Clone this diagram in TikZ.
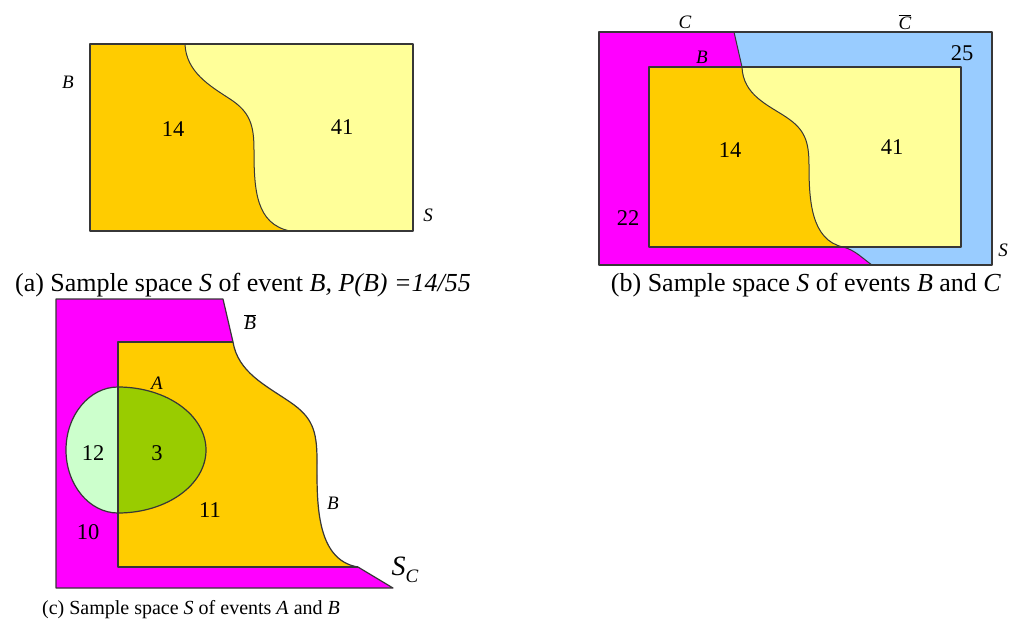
\documentclass[tikz,border=0pt]{standalone}
\usepackage{fontspec}
\setmainfont{Liberation Serif}
\definecolor{orng}{RGB}{255,204,0}
\definecolor{lyel}{RGB}{255,255,153}
\definecolor{mag}{RGB}{255,0,255}
\definecolor{lblue}{RGB}{153,204,255}
\definecolor{grn}{RGB}{153,204,0}
\definecolor{lgrn}{RGB}{204,255,204}
\definecolor{edge}{RGB}{55,55,55}
\tikzset{
  outl/.style={draw=edge, line width=1.2pt, line join=round},
  num/.style={font=\fontsize{22.5}{25}\selectfont, inner sep=0pt},
  lab/.style={font=\fontsize{19}{21}\selectfont\itshape, inner sep=0pt},
  capa/.style={font=\fontsize{26}{29}\selectfont, inner sep=0pt},
  capc/.style={font=\fontsize{20}{24}\selectfont, inner sep=0pt}
}
\begin{document}
\begin{tikzpicture}[x=1pt,y=-1pt]
\useasboundingbox (0,0) rectangle (1011,626);
% ---------- (a) ----------
\fill[lyel] (90,44) rectangle (413,231);
\fill[orng] (90,44) -- (185,44) .. controls (186,72) and (210,86) .. (230,99)
  .. controls (250,112) and (254,125) .. (254,150)
  .. controls (254,190) and (256,224) .. (290,231) -- (90,231) -- cycle;
\draw[outl] (90,44) rectangle (413,231);
\draw[outl, line width=1pt] (185,44) .. controls (186,72) and (210,86) .. (230,99)
  .. controls (250,112) and (254,125) .. (254,150)
  .. controls (254,190) and (256,224) .. (290,231);
\node[lab] (aB) at (68,82) {B};
\node[lab] (aS) at (428,215) {S};
\node[num] (a14) at (173,129) {14};
\node[num] (a41) at (342,127) {41};
\node[capa] (capa) at (243,285) {(a) Sample space \textit{S} of event \textit{B, P(B) =14/55}};
% ---------- (b) ----------
\fill[lblue] (599,32) rectangle (992,265);
\fill[mag] (599,32) -- (734,32) -- (742,67) .. controls (743,95) and (768,105) .. (786,117)
  .. controls (804,129) and (809,140) .. (809,165)
  .. controls (809,200) and (811,240) .. (843,247)
  .. controls (855,250) and (862,258) .. (872,265) -- (599,265) -- cycle;
\fill[lyel] (649,67) rectangle (961,247);
\fill[orng] (649,67) -- (742,67) .. controls (743,95) and (768,105) .. (786,117)
  .. controls (804,129) and (809,140) .. (809,165)
  .. controls (809,200) and (811,240) .. (843,247) -- (649,247) -- cycle;
\draw[outl] (599,32) rectangle (992,265);
\draw[outl] (649,67) rectangle (961,247);
\draw[outl, line width=1pt] (734,32) -- (742,67) .. controls (743,95) and (768,105) .. (786,117)
  .. controls (804,129) and (809,140) .. (809,165)
  .. controls (809,200) and (811,240) .. (843,247)
  .. controls (855,250) and (862,258) .. (872,265);
\node[lab] (bC) at (685,22) {C};
\node[lab] (bCb) at (905,22) {$\overline{\mbox{\itshape C}}$};
\node[lab] (bB) at (702,57) {B};
\node[lab] (bS) at (1003,250) {S};
\node[num] (b25) at (962,53) {25};
\node[num] (b14) at (730,150) {14};
\node[num] (b41) at (892,147) {41};
\node[num] (b22) at (628,218) {22};
\node[capa] (capb) at (806,285) {(b) Sample space \textit{S} of events \textit{B} and \textit{C}};
% ---------- (c) ----------
\fill[mag] (56,299) -- (223,299) -- (233,342) .. controls (238,372) and (265,385) .. (290,402)
  .. controls (312,417) and (317,430) .. (317,460)
  .. controls (317,500) and (315,560) .. (358,567) -- (393,588) -- (56,588) -- cycle;
\fill[orng] (118,342) -- (233,342) .. controls (238,372) and (265,385) .. (290,402)
  .. controls (312,417) and (317,430) .. (317,460)
  .. controls (317,500) and (315,560) .. (358,567) -- (118,567) -- cycle;
\fill[lgrn] (118,387) .. controls (89.3,387) and (66,415.2) .. (66,450)
  .. controls (66,484.8) and (89.3,513) .. (118,513) -- cycle;
\fill[grn] (118,387) .. controls (166.6,387) and (206,415.2) .. (206,450)
  .. controls (206,484.8) and (166.6,513) .. (118,513) -- cycle;
\draw[outl] (56,299) -- (223,299) -- (233,342) .. controls (238,372) and (265,385) .. (290,402)
  .. controls (312,417) and (317,430) .. (317,460)
  .. controls (317,500) and (315,560) .. (358,567) -- (393,588) -- (56,588) -- cycle;
\draw[outl] (233,342) -- (118,342) -- (118,567) -- (358,567);
\draw[outl] (118,387) .. controls (89.3,387) and (66,415.2) .. (66,450)
  .. controls (66,484.8) and (89.3,513) .. (118,513)
  .. controls (166.6,513) and (206,484.8) .. (206,450)
  .. controls (206,415.2) and (166.6,387) .. (118,387) -- cycle;
\node[lab] (cA) at (157,383) {A};
\node[lab] (cB) at (333,503) {B};
\node[lab, font=\fontsize{20}{22}\selectfont\itshape] (cBb) at (250,322) {$\overline{\mbox{\itshape B}}$};
\node[font=\fontsize{28}{30}\selectfont\itshape, inner sep=0pt] (cSC) at (405,570) {S\raisebox{-0.25em}{\fontsize{19}{20}\selectfont C}};
\node[num] (c12) at (93,453) {12};
\node[num] (c3) at (157,453) {3};
\node[num] (c11) at (210,510) {11};
\node[num] (c10) at (88,532) {10};
\node[capc] (capc) at (191,610) {(c) Sample space \textit{S} of events \textit{A} and \textit{B}};
\end{tikzpicture}
\end{document}
